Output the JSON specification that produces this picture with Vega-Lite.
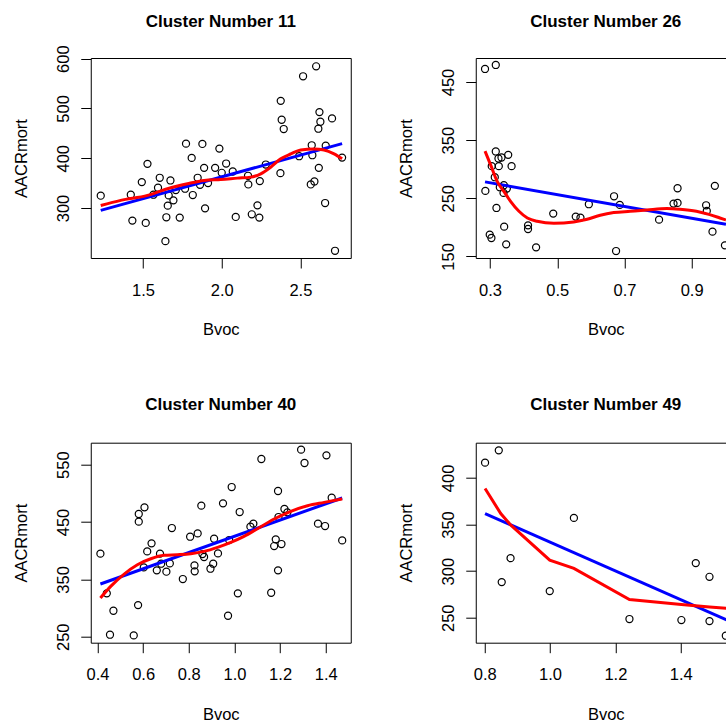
{
"$schema": "https://vega.github.io/schema/vega-lite/v6.json",
"background": "white",
"padding": {"left": 12.75, "top": 12, "right": 0, "bottom": 0},
"columns": 2,
"spacing": {"row": 184.7, "column": 125},
"bounds": "flush",
"datasets": {
"p11": [{"Bvoc":1.231,"AACRmort":324.7},{"Bvoc":1.422,"AACRmort":326.7},{"Bvoc":1.432,"AACRmort":274.7},{"Bvoc":1.517,"AACRmort":270},{"Bvoc":1.492,"AACRmort":352},{"Bvoc":1.528,"AACRmort":388.7},{"Bvoc":1.566,"AACRmort":326.7},{"Bvoc":1.595,"AACRmort":340.7},{"Bvoc":1.606,"AACRmort":360.7},{"Bvoc":1.642,"AACRmort":233.3},{"Bvoc":1.648,"AACRmort":281.3},{"Bvoc":1.657,"AACRmort":304.7},{"Bvoc":1.663,"AACRmort":325.3},{"Bvoc":1.674,"AACRmort":355.3},{"Bvoc":1.693,"AACRmort":315.3},{"Bvoc":1.708,"AACRmort":336},{"Bvoc":1.733,"AACRmort":280.7},{"Bvoc":1.767,"AACRmort":338.7},{"Bvoc":1.773,"AACRmort":429.3},{"Bvoc":1.809,"AACRmort":400.7},{"Bvoc":1.816,"AACRmort":326},{"Bvoc":1.847,"AACRmort":360.7},{"Bvoc":1.862,"AACRmort":346.7},{"Bvoc":1.877,"AACRmort":428.7},{"Bvoc":1.888,"AACRmort":380.7},{"Bvoc":1.894,"AACRmort":299.3},{"Bvoc":1.913,"AACRmort":350},{"Bvoc":1.958,"AACRmort":380.7},{"Bvoc":1.985,"AACRmort":419.3},{"Bvoc":2.0,"AACRmort":370.7},{"Bvoc":2.028,"AACRmort":389.3},{"Bvoc":2.07,"AACRmort":373.3},{"Bvoc":2.089,"AACRmort":282},{"Bvoc":2.167,"AACRmort":364.7},{"Bvoc":2.169,"AACRmort":347.3},{"Bvoc":2.191,"AACRmort":287.3},{"Bvoc":2.227,"AACRmort":305.3},{"Bvoc":2.239,"AACRmort":280.7},{"Bvoc":2.242,"AACRmort":354},{"Bvoc":2.28,"AACRmort":387.3},{"Bvoc":2.375,"AACRmort":515.3},{"Bvoc":2.381,"AACRmort":477.3},{"Bvoc":2.394,"AACRmort":458.7},{"Bvoc":2.373,"AACRmort":370},{"Bvoc":2.492,"AACRmort":404},{"Bvoc":2.517,"AACRmort":564.7},{"Bvoc":2.566,"AACRmort":347.3},{"Bvoc":2.589,"AACRmort":353.3},{"Bvoc":2.572,"AACRmort":426},{"Bvoc":2.576,"AACRmort":406},{"Bvoc":2.6,"AACRmort":584.7},{"Bvoc":2.614,"AACRmort":459.3},{"Bvoc":2.621,"AACRmort":492.7},{"Bvoc":2.627,"AACRmort":473.3},{"Bvoc":2.617,"AACRmort":380.7},{"Bvoc":2.661,"AACRmort":425.3},{"Bvoc":2.657,"AACRmort":310},{"Bvoc":2.701,"AACRmort":480},{"Bvoc":2.72,"AACRmort":214},{"Bvoc":2.765,"AACRmort":401.3}],
"lm11": [{"Bvoc":1.231,"AACRmort":295.3},{"Bvoc":2.765,"AACRmort":429.3}],
"lo11": [{"Bvoc":1.231,"AACRmort":305},{"Bvoc":1.358,"AACRmort":315.3},{"Bvoc":1.528,"AACRmort":325.3},{"Bvoc":1.655,"AACRmort":338.7},{"Bvoc":1.782,"AACRmort":348.7},{"Bvoc":1.888,"AACRmort":355.3},{"Bvoc":1.994,"AACRmort":357.3},{"Bvoc":2.1,"AACRmort":360},{"Bvoc":2.184,"AACRmort":362},{"Bvoc":2.248,"AACRmort":368.7},{"Bvoc":2.311,"AACRmort":382},{"Bvoc":2.375,"AACRmort":398.7},{"Bvoc":2.439,"AACRmort":408.7},{"Bvoc":2.502,"AACRmort":416.7},{"Bvoc":2.587,"AACRmort":418.7},{"Bvoc":2.65,"AACRmort":416.7},{"Bvoc":2.714,"AACRmort":408.7},{"Bvoc":2.765,"AACRmort":398.7}],
"p26": [{"Bvoc":0.285,"AACRmort":472.4},{"Bvoc":0.317,"AACRmort":479.3},{"Bvoc":0.286,"AACRmort":262.6},{"Bvoc":0.299,"AACRmort":187.4},{"Bvoc":0.304,"AACRmort":181.6},{"Bvoc":0.305,"AACRmort":305.2},{"Bvoc":0.317,"AACRmort":330.5},{"Bvoc":0.314,"AACRmort":286.2},{"Bvoc":0.319,"AACRmort":233.3},{"Bvoc":0.325,"AACRmort":318.4},{"Bvoc":0.326,"AACRmort":305.2},{"Bvoc":0.334,"AACRmort":320.1},{"Bvoc":0.329,"AACRmort":269},{"Bvoc":0.341,"AACRmort":272.4},{"Bvoc":0.34,"AACRmort":259.2},{"Bvoc":0.35,"AACRmort":266.7},{"Bvoc":0.342,"AACRmort":201.1},{"Bvoc":0.348,"AACRmort":170.7},{"Bvoc":0.354,"AACRmort":324.7},{"Bvoc":0.364,"AACRmort":305.2},{"Bvoc":0.413,"AACRmort":203.4},{"Bvoc":0.413,"AACRmort":197.1},{"Bvoc":0.437,"AACRmort":165.5},{"Bvoc":0.488,"AACRmort":223.6},{"Bvoc":0.555,"AACRmort":218.4},{"Bvoc":0.569,"AACRmort":216.7},{"Bvoc":0.594,"AACRmort":239.7},{"Bvoc":0.669,"AACRmort":253.4},{"Bvoc":0.675,"AACRmort":159.2},{"Bvoc":0.686,"AACRmort":238.5},{"Bvoc":0.803,"AACRmort":213.2},{"Bvoc":0.846,"AACRmort":240.8},{"Bvoc":0.858,"AACRmort":242},{"Bvoc":0.858,"AACRmort":267.2},{"Bvoc":0.943,"AACRmort":237.9},{"Bvoc":0.945,"AACRmort":228.2},{"Bvoc":0.962,"AACRmort":192.5},{"Bvoc":0.969,"AACRmort":271.3},{"Bvoc":0.999,"AACRmort":169}],
"lm26": [{"Bvoc":0.285,"AACRmort":278.2},{"Bvoc":1.002,"AACRmort":205.2}],
"lo26": [{"Bvoc":0.285,"AACRmort":331},{"Bvoc":0.302,"AACRmort":306.9},{"Bvoc":0.322,"AACRmort":278.2},{"Bvoc":0.342,"AACRmort":261},{"Bvoc":0.361,"AACRmort":244.8},{"Bvoc":0.386,"AACRmort":227.6},{"Bvoc":0.411,"AACRmort":216.1},{"Bvoc":0.44,"AACRmort":210.3},{"Bvoc":0.49,"AACRmort":206.9},{"Bvoc":0.549,"AACRmort":209.2},{"Bvoc":0.589,"AACRmort":213.8},{"Bvoc":0.628,"AACRmort":220.7},{"Bvoc":0.668,"AACRmort":225.3},{"Bvoc":0.717,"AACRmort":227.6},{"Bvoc":0.767,"AACRmort":229.9},{"Bvoc":0.826,"AACRmort":232.2},{"Bvoc":0.865,"AACRmort":231},{"Bvoc":0.914,"AACRmort":227.6},{"Bvoc":0.954,"AACRmort":221.8},{"Bvoc":0.984,"AACRmort":216.1},{"Bvoc":1.002,"AACRmort":212.6}],
"p40": [{"Bvoc":0.413,"AACRmort":394.8},{"Bvoc":0.441,"AACRmort":325.6},{"Bvoc":0.455,"AACRmort":253.5},{"Bvoc":0.47,"AACRmort":295.3},{"Bvoc":0.559,"AACRmort":252.3},{"Bvoc":0.578,"AACRmort":305.2},{"Bvoc":0.581,"AACRmort":450.6},{"Bvoc":0.581,"AACRmort":464},{"Bvoc":0.606,"AACRmort":475.6},{"Bvoc":0.603,"AACRmort":370.9},{"Bvoc":0.618,"AACRmort":398.8},{"Bvoc":0.637,"AACRmort":412.8},{"Bvoc":0.66,"AACRmort":365.7},{"Bvoc":0.674,"AACRmort":394.8},{"Bvoc":0.679,"AACRmort":377.3},{"Bvoc":0.702,"AACRmort":363.4},{"Bvoc":0.717,"AACRmort":377.9},{"Bvoc":0.726,"AACRmort":439.5},{"Bvoc":0.774,"AACRmort":350.6},{"Bvoc":0.806,"AACRmort":424.4},{"Bvoc":0.825,"AACRmort":374.4},{"Bvoc":0.826,"AACRmort":364},{"Bvoc":0.839,"AACRmort":430.2},{"Bvoc":0.855,"AACRmort":478.5},{"Bvoc":0.86,"AACRmort":394.2},{"Bvoc":0.867,"AACRmort":389},{"Bvoc":0.895,"AACRmort":368.6},{"Bvoc":0.907,"AACRmort":377.3},{"Bvoc":0.911,"AACRmort":420.9},{"Bvoc":0.928,"AACRmort":395.3},{"Bvoc":0.95,"AACRmort":482.6},{"Bvoc":0.972,"AACRmort":286.6},{"Bvoc":0.977,"AACRmort":418.6},{"Bvoc":0.988,"AACRmort":511},{"Bvoc":1.015,"AACRmort":325.6},{"Bvoc":1.023,"AACRmort":467.4},{"Bvoc":1.07,"AACRmort":441.9},{"Bvoc":1.083,"AACRmort":447.1},{"Bvoc":1.118,"AACRmort":559.9},{"Bvoc":1.161,"AACRmort":326.7},{"Bvoc":1.174,"AACRmort":408.1},{"Bvoc":1.181,"AACRmort":419.8},{"Bvoc":1.191,"AACRmort":365.7},{"Bvoc":1.191,"AACRmort":504.1},{"Bvoc":1.193,"AACRmort":458.7},{"Bvoc":1.206,"AACRmort":411.6},{"Bvoc":1.219,"AACRmort":472.7},{"Bvoc":1.232,"AACRmort":466.9},{"Bvoc":1.292,"AACRmort":576.2},{"Bvoc":1.307,"AACRmort":552.9},{"Bvoc":1.366,"AACRmort":447.1},{"Bvoc":1.397,"AACRmort":443},{"Bvoc":1.403,"AACRmort":566.3},{"Bvoc":1.426,"AACRmort":492.4},{"Bvoc":1.472,"AACRmort":418}],
"lm40": [{"Bvoc":0.413,"AACRmort":341.9},{"Bvoc":1.472,"AACRmort":491.9}],
"lo40": [{"Bvoc":0.413,"AACRmort":317.4},{"Bvoc":0.458,"AACRmort":337.8},{"Bvoc":0.517,"AACRmort":359.3},{"Bvoc":0.575,"AACRmort":375.6},{"Bvoc":0.634,"AACRmort":386},{"Bvoc":0.692,"AACRmort":391.9},{"Bvoc":0.75,"AACRmort":393},{"Bvoc":0.809,"AACRmort":394.8},{"Bvoc":0.867,"AACRmort":398.8},{"Bvoc":0.926,"AACRmort":405.8},{"Bvoc":0.984,"AACRmort":414.5},{"Bvoc":1.042,"AACRmort":425},{"Bvoc":1.101,"AACRmort":438.4},{"Bvoc":1.174,"AACRmort":455.2},{"Bvoc":1.247,"AACRmort":468.6},{"Bvoc":1.32,"AACRmort":478.5},{"Bvoc":1.393,"AACRmort":484.3},{"Bvoc":1.472,"AACRmort":490.1}],
"p49": [{"Bvoc":0.801,"AACRmort":416.4},{"Bvoc":0.843,"AACRmort":429.6},{"Bvoc":0.852,"AACRmort":288.2},{"Bvoc":0.879,"AACRmort":313.9},{"Bvoc":0.999,"AACRmort":278.6},{"Bvoc":1.073,"AACRmort":357.1},{"Bvoc":1.243,"AACRmort":248.6},{"Bvoc":1.402,"AACRmort":247.5},{"Bvoc":1.446,"AACRmort":308.6},{"Bvoc":1.488,"AACRmort":293.9},{"Bvoc":1.488,"AACRmort":246.4},{"Bvoc":1.538,"AACRmort":230.7}],
"lm49": [{"Bvoc":0.801,"AACRmort":361.8},{"Bvoc":1.541,"AACRmort":247.5}],
"lo49": [{"Bvoc":0.801,"AACRmort":388.6},{"Bvoc":0.849,"AACRmort":361.8},{"Bvoc":0.88,"AACRmort":349.3},{"Bvoc":0.999,"AACRmort":311.8},{"Bvoc":1.073,"AACRmort":302.9},{"Bvoc":1.243,"AACRmort":269.6},{"Bvoc":1.402,"AACRmort":264.3},{"Bvoc":1.488,"AACRmort":261.4},{"Bvoc":1.541,"AACRmort":260}]
},
"concat": [
{
"width": 260, "height": 200,
"title": {"text": "Cluster Number 11", "offset": 14},
"layer": [
{"data": {"name": "p11"}, "mark": {"type": "point", "shape": "circle", "filled": false, "color": "black", "size": 50, "strokeWidth": 1.2, "opacity": 1},
 "encoding": {
  "x": {"field": "Bvoc", "type": "quantitative", "scale": {"domain": [1.1675, 2.82], "nice": false, "zero": false}, "axis": {"values": [1.5, 2.0, 2.5], "format": ".1f"}},
  "y": {"field": "AACRmort", "type": "quantitative", "scale": {"domain": [199.5, 601.4], "nice": false, "zero": false}, "axis": {"values": [300, 400, 500, 600], "format": "d"}}}},
{"data": {"name": "lm11"}, "mark": {"type": "line", "color": "#0000ff", "strokeWidth": 3},
 "encoding": {"x": {"field": "Bvoc", "type": "quantitative"}, "y": {"field": "AACRmort", "type": "quantitative"}}},
{"data": {"name": "lo11"}, "mark": {"type": "line", "color": "#ff0000", "strokeWidth": 3, "interpolate": "monotone"},
 "encoding": {"x": {"field": "Bvoc", "type": "quantitative"}, "y": {"field": "AACRmort", "type": "quantitative"}}}
]
},
{
"width": 260, "height": 200,
"title": {"text": "Cluster Number 26", "offset": 27.5},
"layer": [
{"data": {"name": "p26"}, "mark": {"type": "point", "shape": "circle", "filled": false, "color": "black", "size": 50, "strokeWidth": 1.2, "opacity": 1},
 "encoding": {
  "x": {"field": "Bvoc", "type": "quantitative", "scale": {"domain": [0.2574, 1.0312], "nice": false, "zero": false}, "axis": {"values": [0.3, 0.4, 0.5, 0.6, 0.7, 0.8, 0.9, 1.0], "format": ".1f", "labelExpr": "round(datum.value*10) % 2 == 1 ? datum.label : ''"}},
  "y": {"field": "AACRmort", "type": "quantitative", "scale": {"domain": [147.2, 491.3], "nice": false, "zero": false}, "axis": {"values": [150, 200, 250, 300, 350, 400, 450], "format": "d", "labelExpr": "datum.value % 100 == 50 ? datum.label : ''"}}}},
{"data": {"name": "lm26"}, "mark": {"type": "line", "color": "#0000ff", "strokeWidth": 3},
 "encoding": {"x": {"field": "Bvoc", "type": "quantitative"}, "y": {"field": "AACRmort", "type": "quantitative"}}},
{"data": {"name": "lo26"}, "mark": {"type": "line", "color": "#ff0000", "strokeWidth": 3, "interpolate": "monotone"},
 "encoding": {"x": {"field": "Bvoc", "type": "quantitative"}, "y": {"field": "AACRmort", "type": "quantitative"}}}
]
},
{
"width": 260, "height": 200,
"title": {"text": "Cluster Number 40", "offset": 29},
"layer": [
{"data": {"name": "p40"}, "mark": {"type": "point", "shape": "circle", "filled": false, "color": "black", "size": 50, "strokeWidth": 1.2, "opacity": 1},
 "encoding": {
  "x": {"field": "Bvoc", "type": "quantitative", "scale": {"domain": [0.3707, 1.5095], "nice": false, "zero": false}, "axis": {"values": [0.4, 0.6, 0.8, 1.0, 1.2, 1.4], "format": ".1f"}},
  "y": {"field": "AACRmort", "type": "quantitative", "scale": {"domain": [239.6, 588.3], "nice": false, "zero": false}, "axis": {"values": [250, 300, 350, 400, 450, 500, 550], "format": "d", "labelExpr": "datum.value % 100 == 50 ? datum.label : ''"}}}},
{"data": {"name": "lm40"}, "mark": {"type": "line", "color": "#0000ff", "strokeWidth": 3},
 "encoding": {"x": {"field": "Bvoc", "type": "quantitative"}, "y": {"field": "AACRmort", "type": "quantitative"}}},
{"data": {"name": "lo40"}, "mark": {"type": "line", "color": "#ff0000", "strokeWidth": 3, "interpolate": "monotone"},
 "encoding": {"x": {"field": "Bvoc", "type": "quantitative"}, "y": {"field": "AACRmort", "type": "quantitative"}}}
]
},
{
"width": 260, "height": 200,
"title": {"text": "Cluster Number 49", "offset": 29},
"layer": [
{"data": {"name": "p49"}, "mark": {"type": "point", "shape": "circle", "filled": false, "color": "black", "size": 50, "strokeWidth": 1.2, "opacity": 1},
 "encoding": {
  "x": {"field": "Bvoc", "type": "quantitative", "scale": {"domain": [0.7725, 1.5684], "nice": false, "zero": false}, "axis": {"values": [0.8, 1.0, 1.2, 1.4], "format": ".1f"}},
  "y": {"field": "AACRmort", "type": "quantitative", "scale": {"domain": [223.2, 437.8], "nice": false, "zero": false}, "axis": {"values": [250, 300, 350, 400], "format": "d"}}}},
{"data": {"name": "lm49"}, "mark": {"type": "line", "color": "#0000ff", "strokeWidth": 3},
 "encoding": {"x": {"field": "Bvoc", "type": "quantitative"}, "y": {"field": "AACRmort", "type": "quantitative"}}},
{"data": {"name": "lo49"}, "mark": {"type": "line", "color": "#ff0000", "strokeWidth": 3},
 "encoding": {"x": {"field": "Bvoc", "type": "quantitative"}, "y": {"field": "AACRmort", "type": "quantitative"}}}
]
}
],
"config": {
"view": {"stroke": "black", "strokeWidth": 1},
"axis": {"domain": false, "grid": false, "ticks": true, "tickColor": "black", "tickSize": 10, "tickWidth": 1, "labelFont": "Liberation Sans", "labelFontSize": 16.5, "labelColor": "black", "titleFont": "Liberation Sans", "titleFontSize": 16.5, "titleFontWeight": "normal", "titleColor": "black", "labelOverlap": false, "labelFlush": false},
"axisX": {"labelPadding": 14, "titleX": 130, "titleY": 71.7, "titleBaseline": "middle", "titleAlign": "center", "titleAngle": 0},
"axisY": {"labelAngle": -90, "labelAlign": "center", "labelBaseline": "bottom", "labelPadding": 9.5, "titleX": -69, "titleY": 100, "titleAngle": -90, "titleBaseline": "middle", "titleAlign": "center"},
"title": {"font": "Liberation Sans", "fontSize": 17, "fontWeight": "bold", "color": "black", "baseline": "middle", "frame": "group", "anchor": "middle"}
}
}
